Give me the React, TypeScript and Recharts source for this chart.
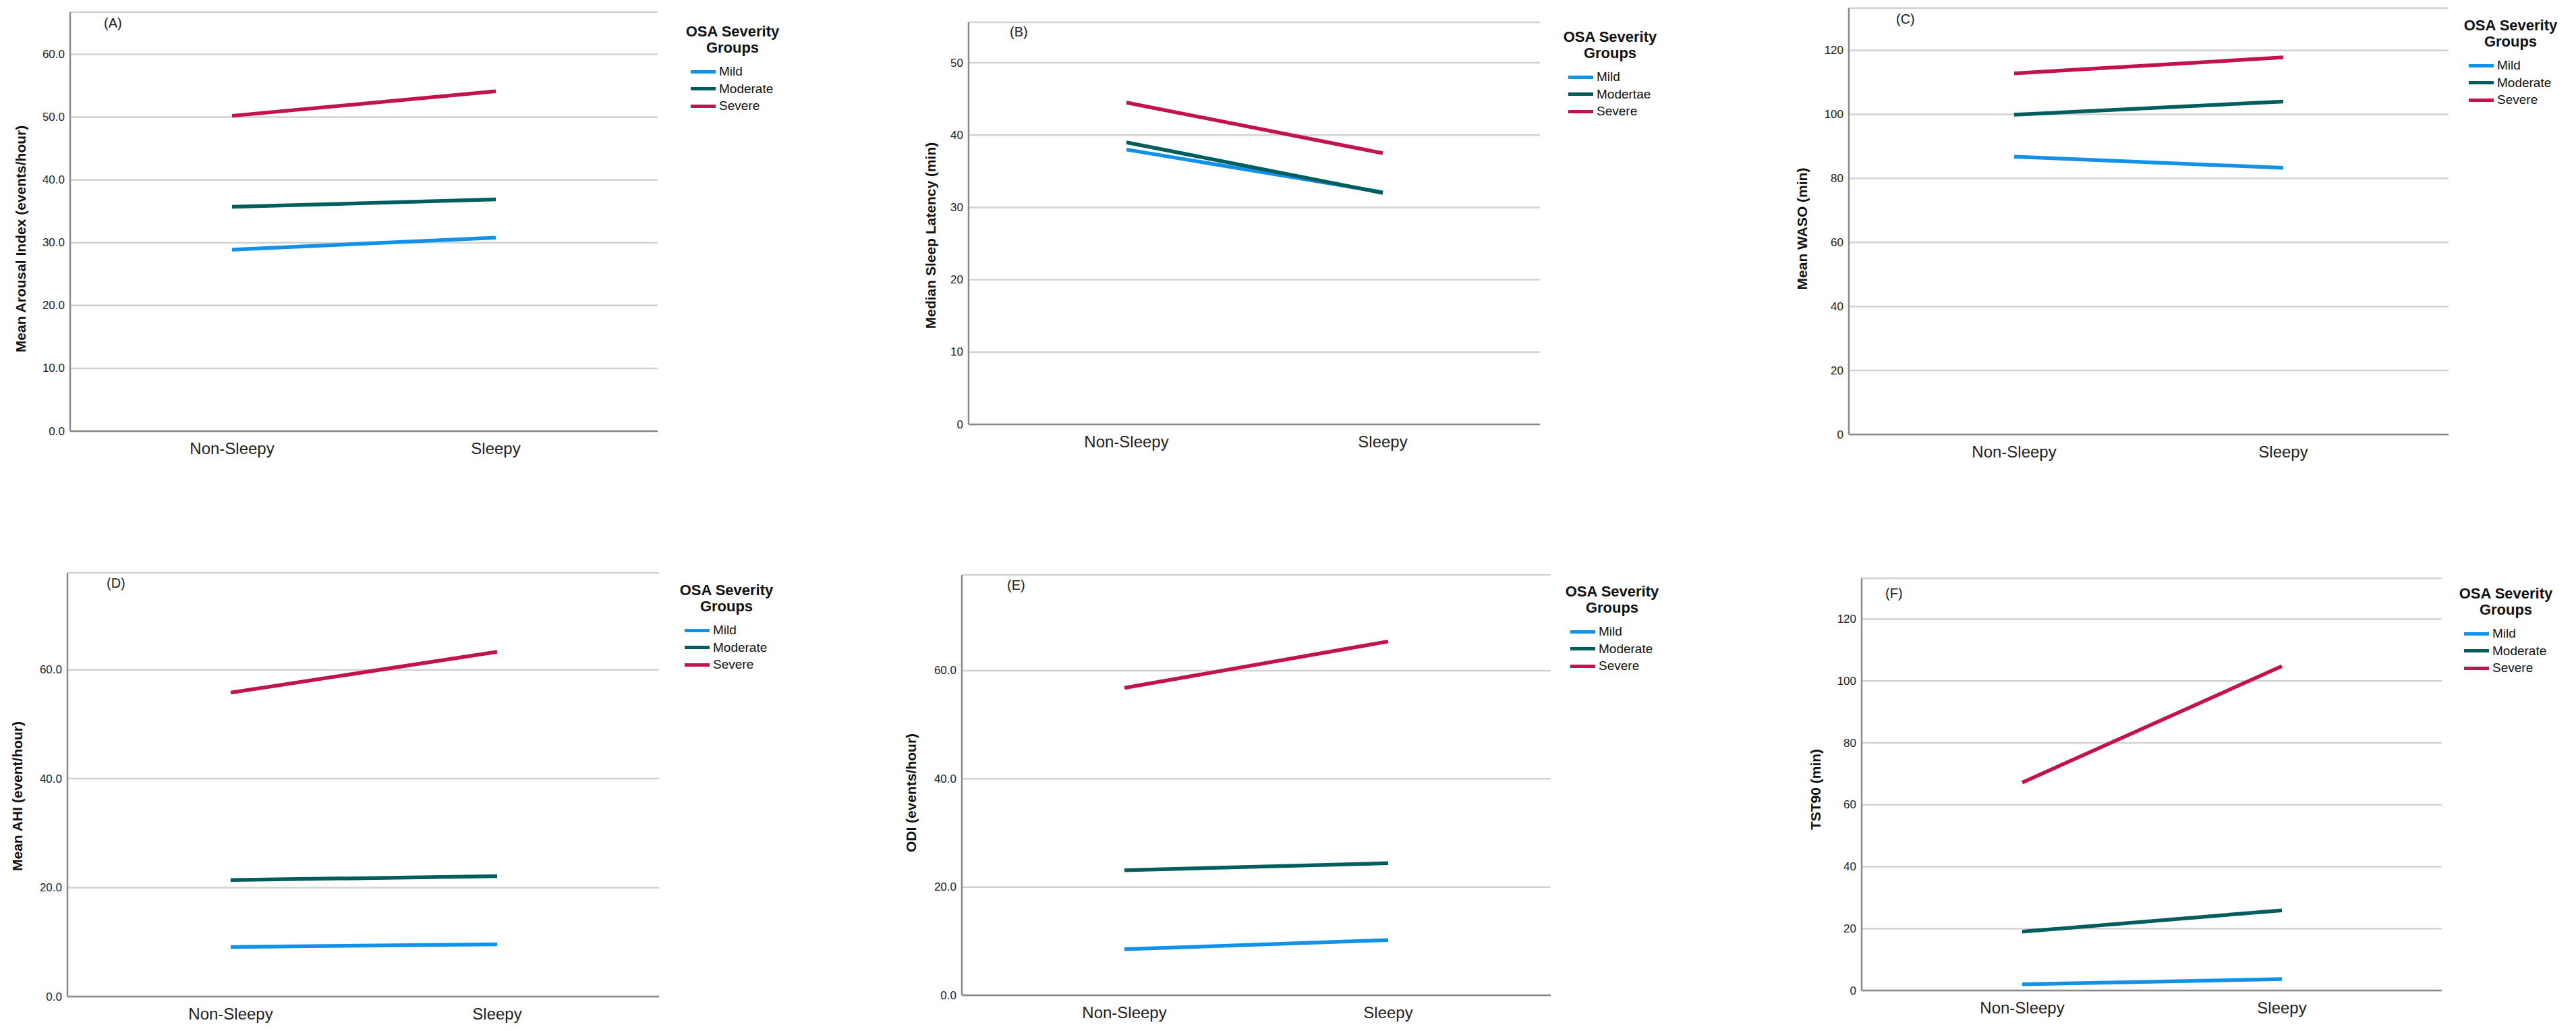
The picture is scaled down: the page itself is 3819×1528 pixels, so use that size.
import React from "react";
import { LineChart, Line, XAxis, YAxis, CartesianGrid } from "recharts";

const categories = ["Non-Sleepy", "Sleepy"];

// (A) Mean Arousal Index
const arousalMild = [28.9, 30.8];
const arousalModerate = [35.7, 36.9];
const arousalSevere = [50.2, 54.1];

// (B) Median Sleep Latency
const latencyMild = [38.0, 32.1];
const latencyModerate = [39.0, 32.0];
const latencySevere = [44.5, 37.5];

// (C) Mean WASO
const wasoMild = [86.8, 83.3];
const wasoModerate = [99.9, 104.0];
const wasoSevere = [112.8, 117.8];

// (D) Mean AHI
const ahiMild = [9.1, 9.6];
const ahiModerate = [21.4, 22.1];
const ahiSevere = [55.8, 63.3];

// (E) ODI
const odiMild = [8.5, 10.2];
const odiModerate = [23.1, 24.4];
const odiSevere = [56.8, 65.4];

// (F) TST90
const tstMild = [2.0, 3.7];
const tstModerate = [19.0, 25.9];
const tstSevere = [67.2, 104.8];

const ticks10 = [0, 10, 20, 30, 40, 50, 60];
const ticks10b = [0, 10, 20, 30, 40, 50];
const ticks20 = [0, 20, 40, 60, 80, 100, 120];
const ticks20b = [0, 20, 40, 60];

const COLORS = { mild: "#1192e8", moderate: "#005d5d", severe: "#c2124f" };
const FONT = "'Liberation Sans', Arial, Helvetica, sans-serif";
const AXIS = "#8a8a8a";
const GRID = "#d2d2d2";
const LINE_W = 5.5;

const build = (mild: number[], moderate: number[], severe: number[]) =>
  categories.map((cat, i) => ({ cat, mild: mild[i], moderate: moderate[i], severe: severe[i] }));

type PanelCfg = {
  letter: string;
  yLabel: string;
  moderateName: string;
  rows: ReturnType<typeof build>;
  ticks: number[];
  yMax: number;
  decimals: number;
  axisX: number;
  right: number;
  top: number;
  zero: number;
  pad: [number, number];
  label: [number, number];
  letterPos: [number, number];
  legend: [number, number];
};

const panels: PanelCfg[] = [
  {
    letter: "(A)", yLabel: "Mean Arousal Index (events/hour)", moderateName: "Moderate",
    rows: build(arousalMild, arousalModerate, arousalSevere), ticks: ticks10, yMax: 66.7, decimals: 1,
    axisX: 104, right: 975, top: 18, zero: 639, pad: [240, 240],
    label: [30, 354], letterPos: [154, 34], legend: [1024, 106],
  },
  {
    letter: "(B)", yLabel: "Median Sleep Latency (min)", moderateName: "Modertae",
    rows: build(latencyMild, latencyModerate, latencySevere), ticks: ticks10b, yMax: 55.6, decimals: 0,
    axisX: 1436, right: 2283, top: 33, zero: 629, pad: [234, 233],
    label: [1379, 349], letterPos: [1497, 47], legend: [2325, 114],
  },
  {
    letter: "(C)", yLabel: "Mean WASO (min)", moderateName: "Moderate",
    rows: build(wasoMild, wasoModerate, wasoSevere), ticks: ticks20, yMax: 133.2, decimals: 0,
    axisX: 2741, right: 3630, top: 12, zero: 644, pad: [245, 245],
    label: [2671, 339], letterPos: [2811, 28], legend: [3660, 97],
  },
  {
    letter: "(D)", yLabel: "Mean AHI (event/hour)", moderateName: "Moderate",
    rows: build(ahiMild, ahiModerate, ahiSevere), ticks: ticks20b, yMax: 77.8, decimals: 1,
    axisX: 100, right: 977, top: 849, zero: 1477, pad: [242, 240],
    label: [25, 1180], letterPos: [158, 864], legend: [1015, 934],
  },
  {
    letter: "(E)", yLabel: "ODI (events/hour)", moderateName: "Moderate",
    rows: build(odiMild, odiModerate, odiSevere), ticks: ticks20b, yMax: 77.7, decimals: 1,
    axisX: 1426, right: 2299, top: 852, zero: 1475, pad: [241, 241],
    label: [1350, 1175], letterPos: [1493, 867], legend: [2328, 936],
  },
  {
    letter: "(F)", yLabel: "TST90 (min)", moderateName: "Moderate",
    rows: build(tstMild, tstModerate, tstSevere), ticks: ticks20, yMax: 133.2, decimals: 0,
    axisX: 2760, right: 3620, top: 857, zero: 1468, pad: [238, 237],
    label: [2691, 1170], letterPos: [2795, 879], legend: [3653, 939],
  },
];

const XTick = (props: any) => {
  const { x, y, payload } = props;
  return (
    <text x={x} y={y + 25} textAnchor="middle" dominantBaseline="central"
      fontFamily={FONT} fontSize={24} fill="#222">
      {payload.value}
    </text>
  );
};

const makeYTick = (decimals: number) => (props: any) => {
  const { x, y, payload } = props;
  return (
    <text x={x - 8} y={y} textAnchor="end" dominantBaseline="central"
      fontFamily={FONT} fontSize={17} fill="#222">
      {Number(payload.value).toFixed(decimals)}
    </text>
  );
};

const YTitle = ({ px, py, text }: { px: number; py: number; text: string }) => (
  <text x={px} y={py} transform={`rotate(-90 ${px} ${py})`} textAnchor="middle"
    dominantBaseline="central" fontFamily={FONT} fontSize={21} fontWeight="bold" fill="#111">
    {text}
  </text>
);

function Legend2({ x, y, moderateName }: { x: number; y: number; moderateName: string }) {
  const items = [
    { name: "Mild", color: COLORS.mild },
    { name: moderateName, color: COLORS.moderate },
    { name: "Severe", color: COLORS.severe },
  ];
  return (
    <>
      <div style={{
        position: "absolute", left: x + 62 - 120, top: y - 71, width: 240, textAlign: "center",
        fontFamily: FONT, fontWeight: "bold", fontSize: 22, lineHeight: "24px", color: "#111",
      }}>
        OSA Severity<br />Groups
      </div>
      {items.map((it, i) => (
        <React.Fragment key={it.name}>
          <div style={{ position: "absolute", left: x, top: y + i * 25.5 - 2.5, width: 37, height: 5, background: it.color }} />
          <div style={{
            position: "absolute", left: x + 42, top: y + i * 25.5 - 12, fontFamily: FONT,
            fontSize: 19, lineHeight: "24px", color: "#111", whiteSpace: "nowrap",
          }}>
            {it.name}
          </div>
        </React.Fragment>
      ))}
    </>
  );
}

function Panel({ p }: { p: PanelCfg }) {
  const chartLeft = p.axisX - 100;
  const chartTop = p.top - 10;
  const width = p.right - chartLeft + 10;
  const height = p.zero - chartTop + 60;
  return (
    <>
      <div style={{ position: "absolute", left: chartLeft, top: chartTop, width, height }}>
        <LineChart width={width} height={height} data={p.rows}
          margin={{ top: 10, right: 10, bottom: 10, left: 40 }}>
          <CartesianGrid vertical={false} stroke={GRID} strokeWidth={2.5} />
          <XAxis dataKey="cat" type="category" interval={0} height={50}
            padding={{ left: p.pad[0], right: p.pad[1] }}
            axisLine={{ stroke: AXIS, strokeWidth: 2.5 }} tickLine={false}
            tickSize={0} tickMargin={0} tick={<XTick />} />
          <YAxis type="number" domain={[0, p.yMax]} ticks={p.ticks} width={60}
            axisLine={{ stroke: AXIS, strokeWidth: 2.5 }} tickLine={false}
            tickSize={0} tickMargin={0} tick={makeYTick(p.decimals)}
            label={<YTitle px={p.label[0] - chartLeft} py={p.label[1] - chartTop} text={p.yLabel} />} />
          <Line dataKey="mild" stroke={COLORS.mild} strokeWidth={LINE_W} dot={false} isAnimationActive={false} />
          <Line dataKey="moderate" stroke={COLORS.moderate} strokeWidth={LINE_W} dot={false} isAnimationActive={false} />
          <Line dataKey="severe" stroke={COLORS.severe} strokeWidth={LINE_W} dot={false} isAnimationActive={false} />
        </LineChart>
      </div>
      <div style={{
        position: "absolute", left: p.letterPos[0], top: p.letterPos[1] - 12, fontFamily: FONT,
        fontSize: 20, lineHeight: "24px", color: "#222",
      }}>
        {p.letter}
      </div>
      <Legend2 x={p.legend[0]} y={p.legend[1]} moderateName={p.moderateName} />
    </>
  );
}

export default function App() {
  return (
    <div style={{ position: "absolute", left: 0, top: 0, width: 3819, height: 1528, background: "#fff", overflow: "hidden" }}>
      {panels.map((p) => (
        <Panel key={p.letter} p={p} />
      ))}
    </div>
  );
}
